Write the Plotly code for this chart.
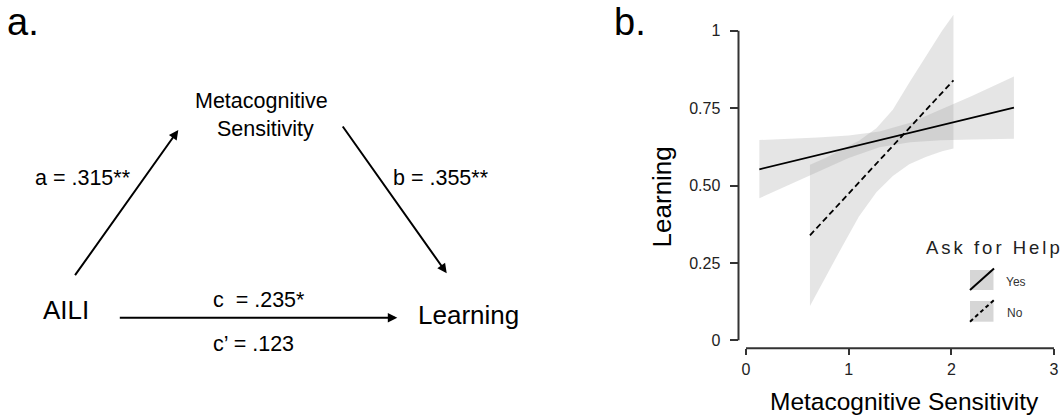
import plotly.graph_objects as go

W, H = 1063, 416
FONT = "Liberation Sans, Arial, sans-serif"

# ---------------- data (panel b) ----------------
yes_line_x = [0.13, 2.61]
yes_line_y = [0.5525, 0.752]
yes_band_x = [0.13, 0.4, 0.7, 1.0, 1.3, 1.6, 1.9, 2.2, 2.61]
yes_upper = [0.647, 0.650, 0.655, 0.662, 0.675, 0.703, 0.745, 0.789, 0.852]
yes_lower = [0.459, 0.500, 0.545, 0.589, 0.624, 0.640, 0.646, 0.649, 0.651]

no_line_x = [0.623, 2.021]
no_line_y = [0.339, 0.840]
no_band_x = [0.623, 0.78, 0.94, 1.10, 1.27, 1.43, 1.59, 1.75, 1.91, 2.021]
no_upper = [0.567, 0.590, 0.618, 0.645, 0.685, 0.745, 0.832, 0.918, 1.000, 1.052]
no_lower = [0.111, 0.208, 0.305, 0.400, 0.478, 0.531, 0.569, 0.592, 0.611, 0.620]

y_tickvals = [0, 0.25, 0.5, 0.75, 1]
y_ticktext = ["0", "0.25", "0.50", "0.75", "1"]
x_tickvals = [0, 1, 2, 3]
x_ticktext = ["0", "1", "2", "3"]

# ---------------- panel a text ----------------
path_labels = {
    "a": "a = .315**",
    "b": "b = .355**",
    "c": "c  = .235*",
    "cp": "c\u2019 = .123",
}
node_labels = {"x": "AILI", "m1": "Metacognitive", "m2": "Sensitivity", "y": "Learning"}


def px(x):
    return x / W


def py(y):
    return 1 - y / H


fig = go.Figure()

band_fill = "rgba(150,150,150,0.25)"
fig.add_trace(go.Scatter(
    x=yes_band_x + yes_band_x[::-1], y=yes_upper + yes_lower[::-1],
    fill="toself", fillcolor=band_fill, line=dict(width=0), mode="lines",
    hoverinfo="skip", showlegend=False))
fig.add_trace(go.Scatter(
    x=no_band_x + no_band_x[::-1], y=no_upper + no_lower[::-1],
    fill="toself", fillcolor=band_fill, line=dict(width=0), mode="lines",
    hoverinfo="skip", showlegend=False))
fig.add_trace(go.Scatter(x=yes_line_x, y=yes_line_y, mode="lines",
                         line=dict(color="black", width=1.8), showlegend=False))
fig.add_trace(go.Scatter(x=no_line_x, y=no_line_y, mode="lines",
                         line=dict(color="black", width=1.8, dash="6px,3.5px"),
                         showlegend=False))

axis_col = "#333333"
fig.update_layout(
    width=W, height=H,
    margin=dict(l=0, r=0, t=0, b=0),
    paper_bgcolor="white", plot_bgcolor="white",
    showlegend=False,
    xaxis=dict(domain=[738.5 / W, 1062 / W], range=[-0.073, 3.078],
               showgrid=False, zeroline=False, showline=False,
               tickvals=x_tickvals, ticktext=x_ticktext,
               ticks="outside", ticklen=6, tickwidth=2, tickcolor=axis_col,
               tickfont=dict(family=FONT, size=16, color="#222"),
               fixedrange=True),
    yaxis=dict(domain=[1 - 348.3 / H, 1 - 8 / H], range=[-0.02585, 1.07367],
               showgrid=False, zeroline=False, showline=False,
               tickvals=y_tickvals, ticktext=y_ticktext,
               ticks="outside", ticklen=8, tickwidth=2, tickcolor=axis_col,
               tickfont=dict(family=FONT, size=16, color="#222"),
               ticklabelstandoff=6,
               fixedrange=True),
)

shapes = []
# axis lines (range-frame style)
shapes.append(dict(type="line", xref="x domain", yref="y", x0=0, x1=0, y0=0, y1=1,
                   line=dict(color=axis_col, width=2)))
shapes.append(dict(type="line", xref="x", yref="y domain", x0=0, x1=3, y0=0, y1=0,
                   line=dict(color=axis_col, width=2)))
# legend keys
key_fill = "#d6d6d6"
shapes.append(dict(type="rect", xref="paper", yref="paper",
                   x0=px(970), x1=px(993.5), y0=py(290), y1=py(270),
                   fillcolor=key_fill, line=dict(width=0)))
shapes.append(dict(type="rect", xref="paper", yref="paper",
                   x0=px(970), x1=px(993.5), y0=py(321.7), y1=py(301),
                   fillcolor=key_fill, line=dict(width=0)))
shapes.append(dict(type="line", xref="paper", yref="paper",
                   x0=px(970), y0=py(290), x1=px(994), y1=py(268.5),
                   line=dict(color="black", width=2)))
shapes.append(dict(type="line", xref="paper", yref="paper",
                   x0=px(970), y0=py(321.7), x1=px(994), y1=py(300),
                   line=dict(color="black", width=2, dash="4px,3px")))
fig.update_layout(shapes=shapes)

ann = []


def text(t, x, y, size, xanchor="center", yanchor="middle", color="black", angle=0):
    ann.append(dict(text=t, x=px(x), y=py(y), xref="paper", yref="paper",
                    xanchor=xanchor, yanchor=yanchor, showarrow=False,
                    textangle=angle, borderpad=0,
                    font=dict(family=FONT, size=size, color=color)))


# panel letters
text("a.", 6, 0, 38, xanchor="left", yanchor="top")
text("b.", 613, 0, 38, xanchor="left", yanchor="top")

# panel a
text(node_labels["m1"], 261.5, 100.8, 21.5)
text(node_labels["m2"], 265, 129, 21.5)
text(path_labels["a"], 82.8, 177.5, 21.5)
text(path_labels["b"], 441.3, 177.5, 21.5)
text(path_labels["c"], 258.8, 300, 21.5)
text(path_labels["cp"], 253, 344, 21.5)
text(node_labels["x"], 65.5, 310, 26)
text(node_labels["y"], 468, 315, 26)


def arrow(tip, tail):
    ann.append(dict(text="", x=px(tip[0]), y=py(tip[1]), xref="paper", yref="paper",
                    ax=tail[0] - tip[0], ay=tail[1] - tip[1],
                    showarrow=True, arrowhead=2, arrowsize=0.95, arrowwidth=2,
                    arrowcolor="black", standoff=0, startstandoff=0))


arrow((178.3, 130), (74, 276.7))
arrow((446.7, 273.3), (341.7, 125))
arrow((397.3, 317.7), (118.3, 317.7))

# panel b axis titles
text("Learning", 661.7, 196.7, 26, angle=-90)
text("Metacognitive Sensitivity", 904, 401.7, 24.5)

# legend
text('<span style="letter-spacing:3px">Ask for Help</span>', 994.5, 247.3, 18.5, color="#222")
text("Yes", 1015.5, 282, 12, color="#333")
text("No", 1014.7, 312.8, 12, color="#333")

fig.update_layout(annotations=ann)

fig.write_html(
    "out.html",
    config={"displayModeBar": False, "staticPlot": True},
    post_script="document.body.style.margin='0px';document.body.style.overflow='hidden';",
)
